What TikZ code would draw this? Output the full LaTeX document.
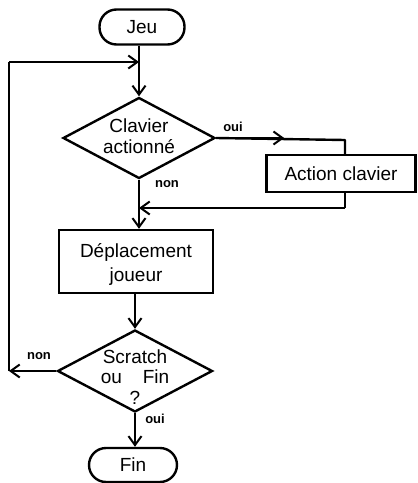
\documentclass[tikz,border=0pt]{standalone}
\usepackage{fontspec}
\setmainfont{Liberation Sans}
\usetikzlibrary{shapes.geometric,arrows.meta}
\begin{document}
\begin{tikzpicture}[x=1pt,y=-1pt,
  every node/.style={font=\fontsize{19}{21}\selectfont},
  ln/.style={line width=2.4pt, line join=round},
  arr/.style={ln,-{Straight Barb[length=9pt,width=13pt,line width=2pt]}},
  term/.style={draw, line width=2.4pt, rounded corners=17pt, minimum width=85pt, minimum height=35pt, inner sep=0pt},
  proc/.style={draw, line width=2.4pt, inner sep=0pt},
  dec/.style={draw, line width=2.4pt, diamond, inner sep=0pt},
  lab/.style={font=\fontsize{13}{15}\selectfont\bfseries}]
\useasboundingbox (0,0) rectangle (418,483);
\node[term] (jeu) at (142,27) {Jeu};
\node[dec, minimum width=152pt, minimum height=81pt] (d1) at (139,138) {};
\node[align=center] (t1) at (139,136) {Clavier\\actionné};
\node[proc, minimum width=149pt, minimum height=37pt] (act) at (341,173.5) {Action clavier};
\node[proc, minimum width=154pt, minimum height=63pt] (dep) at (136,261.5) {};
\node[align=center, font=\fontsize{19}{24}\selectfont] (t2) at (136,264) {Déplacement\\joueur};
\node[dec, minimum width=155pt, minimum height=82pt] (d2) at (135,371) {};
\node[align=center, font=\fontsize{19}{20.5}\selectfont] (t3) at (135,377) {Scratch\\ou\hspace{1.1em}Fin\\?};
\node[term, minimum width=88pt, minimum height=34pt] (fin) at (133,465) {Fin};
\node[lab] (l1) at (233,127) {oui};
\node[lab] (l2) at (167,184) {non};
\node[lab] (l3) at (39,356) {non};
\node[lab] (l4) at (155,419) {oui};
\coordinate (c1) at (345,140);
\coordinate (c2) at (345,208);
\coordinate (c3) at (9,371);
\coordinate (c4) at (9,62);
% connectors
\draw[arr] (d1.north |- jeu.south) -- (d1.north);
\draw[ln] (d1.east) -- (c1) -- (c1 |- act.north);
\draw[arr] (d1.east) -- ++(68,0);
\draw[ln] (c1 |- act.south) -- (c2);
\draw[arr] (c2) -- (c2 -| d1.south);
\draw[arr] (d1.south) -- (d1.south |- dep.north);
\draw[arr] (d2.north |- dep.south) -- (d2.north);
\draw[arr] (d2.west) -- (c3);
\draw[ln] (c3) -- (c4);
\draw[arr] (c4) -- (c4 -| d1.north);
\draw[arr] (d2.south) -- (d2.south |- fin.north);
\end{tikzpicture}
\end{document}
